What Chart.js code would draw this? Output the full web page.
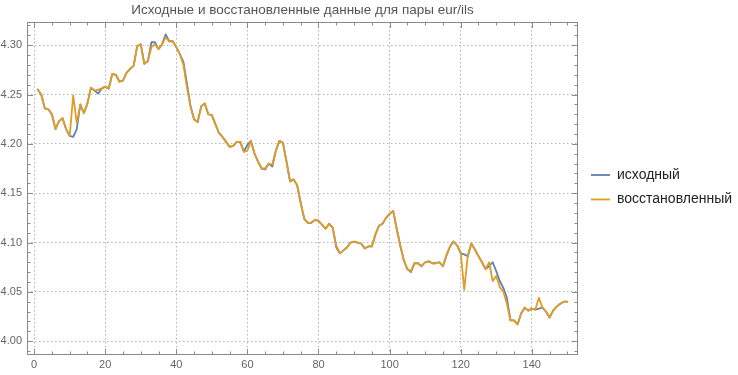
<!DOCTYPE html>
<html lang="ru">
<head>
  <meta charset="UTF-8" />
  <title>eur/ils</title>
  <script src="https://cdn.jsdelivr.net/npm/chart.js"></script>
  <style>
    body { margin: 0; background: white; }
    #wrap { width: 738px; height: 375px; }
  </style>
</head>
<body>
  <div id="wrap"><canvas id="chart" width="738" height="375"></canvas></div>

  <script>
    const titleText = "Исходные и восстановленные данные для пары eur/ils";
    const seriesNames = ["исходный", "восстановленный"];
    const xTicks = [0, 20, 40, 60, 80, 100, 120, 140];
    const yTicks = [4.00, 4.05, 4.10, 4.15, 4.20, 4.25, 4.30];

    const steps = Array.from({ length: 150 }, (_, i) => i + 1);

    const original = [
      4.255, 4.250, 4.236, 4.235, 4.230, 4.215, 4.223, 4.226, 4.215, 4.208,
      4.207, 4.215, 4.240, 4.231, 4.241, 4.257, 4.254, 4.251, 4.256, 4.258,
      4.256, 4.271, 4.270, 4.263, 4.264, 4.272, 4.276, 4.279, 4.299, 4.301,
      4.281, 4.284, 4.303, 4.303, 4.296, 4.301, 4.311, 4.304, 4.304, 4.298,
      4.291, 4.283, 4.261, 4.238, 4.225, 4.222, 4.238, 4.241, 4.230, 4.229,
      4.220, 4.211, 4.207, 4.202, 4.197, 4.198, 4.202, 4.202, 4.192, 4.199,
      4.203, 4.190, 4.182, 4.175, 4.174, 4.180, 4.177, 4.193, 4.203, 4.201,
      4.182, 4.162, 4.164, 4.158, 4.140, 4.124, 4.120, 4.120, 4.123, 4.122,
      4.118, 4.114, 4.119, 4.115, 4.095, 4.089, 4.092, 4.095, 4.100, 4.101,
      4.100, 4.099, 4.094, 4.096, 4.096, 4.108, 4.117, 4.119, 4.125, 4.129,
      4.132, 4.114, 4.097, 4.082, 4.073, 4.070, 4.079, 4.079, 4.076, 4.080,
      4.081, 4.079, 4.079, 4.080, 4.076, 4.087, 4.096, 4.101, 4.097, 4.089,
      4.088, 4.086, 4.099, 4.093, 4.086, 4.080, 4.073, 4.076, 4.080, 4.071,
      4.061, 4.054, 4.044, 4.021, 4.021, 4.017, 4.028, 4.034, 4.031, 4.033,
      4.032, 4.033, 4.034, 4.030, 4.024, 4.031, 4.035, 4.038, 4.040, 4.040
    ];

    const restored = [
      4.255, 4.250, 4.236, 4.235, 4.230, 4.215, 4.223, 4.226, 4.215, 4.208,
      4.249, 4.221, 4.240, 4.231, 4.241, 4.257, 4.254, 4.255, 4.256, 4.258,
      4.256, 4.271, 4.270, 4.263, 4.264, 4.272, 4.276, 4.279, 4.299, 4.301,
      4.281, 4.284, 4.298, 4.301, 4.296, 4.301, 4.308, 4.304, 4.304, 4.298,
      4.291, 4.280, 4.257, 4.238, 4.225, 4.222, 4.238, 4.241, 4.230, 4.229,
      4.220, 4.211, 4.207, 4.202, 4.197, 4.198, 4.202, 4.202, 4.192, 4.193,
      4.203, 4.190, 4.182, 4.175, 4.175, 4.180, 4.179, 4.193, 4.203, 4.201,
      4.182, 4.162, 4.164, 4.158, 4.140, 4.124, 4.120, 4.120, 4.123, 4.122,
      4.118, 4.114, 4.119, 4.115, 4.097, 4.089, 4.092, 4.095, 4.100, 4.101,
      4.100, 4.099, 4.094, 4.096, 4.096, 4.108, 4.117, 4.119, 4.125, 4.129,
      4.132, 4.114, 4.097, 4.082, 4.073, 4.071, 4.079, 4.079, 4.076, 4.080,
      4.081, 4.079, 4.079, 4.080, 4.076, 4.087, 4.096, 4.101, 4.097, 4.090,
      4.052, 4.087, 4.099, 4.093, 4.086, 4.080, 4.073, 4.080, 4.061, 4.066,
      4.055, 4.050, 4.038, 4.021, 4.021, 4.017, 4.028, 4.034, 4.031, 4.033,
      4.032, 4.044, 4.034, 4.030, 4.024, 4.031, 4.035, 4.038, 4.040, 4.040
    ];

    const colors = ["#5e81b5", "#e19c24"];
    const FONT = "'Liberation Sans', Arial, sans-serif";

    // рамка с засечками внутрь, заголовок и легенда справа
    const framePlugin = {
      id: "frame",
      afterDraw(chart) {
        const { ctx, chartArea: a, scales: { x, y } } = chart;
        ctx.save();
        ctx.strokeStyle = "#8a8a8a";
        ctx.lineWidth = 1;
        ctx.strokeRect(a.left + 0.5, a.top + 0.5, a.right - a.left - 1, a.bottom - a.top - 1);

        ctx.beginPath();
        for (let v = -5; v <= 155; v += 5) {
          if (v < x.min || v > x.max) continue;
          const px = Math.round(x.getPixelForValue(v)) + 0.5;
          const len = v % 20 === 0 ? 6 : 3.5;
          ctx.moveTo(px, a.bottom); ctx.lineTo(px, a.bottom - len);
          ctx.moveTo(px, a.top); ctx.lineTo(px, a.top + len);
        }
        for (let k = 398; k <= 433; k++) {
          const v = k / 100;
          if (v < y.min || v > y.max) continue;
          const py = Math.round(y.getPixelForValue(v)) + 0.5;
          const len = k % 5 === 0 ? 6 : 3.5;
          ctx.moveTo(a.left, py); ctx.lineTo(a.left + len, py);
          ctx.moveTo(a.right, py); ctx.lineTo(a.right - len, py);
        }
        ctx.stroke();

        // заголовок
        ctx.fillStyle = "#555";
        ctx.font = "13.5px " + FONT;
        ctx.textAlign = "center";
        ctx.textBaseline = "middle";
        ctx.fillText(titleText, (a.left + a.right) / 2, 10);

        // легенда
        ctx.font = "14px " + FONT;
        ctx.textAlign = "left";
        chart.data.datasets.forEach((ds, i) => {
          const ly = 175 + i * 24.5;
          ctx.strokeStyle = ds.borderColor;
          ctx.lineWidth = 1.8;
          ctx.beginPath();
          ctx.moveTo(591, ly); ctx.lineTo(610, ly);
          ctx.stroke();
          ctx.fillStyle = "#222";
          ctx.fillText(ds.label, 617, ly);
        });
        ctx.restore();
      }
    };

    const gridStyle = { color: "#b4b4b4", lineWidth: 1, drawTicks: false };

    new Chart(document.getElementById("chart"), {
      type: "line",
      data: {
        datasets: [
          {
            label: seriesNames[0],
            data: steps.map((s, i) => ({ x: s, y: original[i] })),
            borderColor: colors[0],
            borderWidth: 1.8,
            order: 1
          },
          {
            label: seriesNames[1],
            data: steps.map((s, i) => ({ x: s, y: restored[i] })),
            borderColor: colors[1],
            borderWidth: 1.8,
            order: 0
          }
        ]
      },
      options: {
        responsive: false,
        animation: false,
        events: [],
        layout: { padding: { top: 22, right: 160, left: 0, bottom: 0 } },
        elements: {
          point: { radius: 0 },
          line: { tension: 0, borderJoinStyle: "round", borderCapStyle: "round" }
        },
        plugins: {
          legend: { display: false },
          title: { display: false },
          tooltip: { enabled: false }
        },
        scales: {
          x: {
            type: "linear",
            min: -2,
            max: 153,
            afterBuildTicks: s => { s.ticks = xTicks.map(v => ({ value: v })); },
            afterFit: s => { s.height = 20; },
            grid: gridStyle,
            border: { display: false, dash: [1.5, 2.5] },
            ticks: {
              color: "#666",
              font: { family: FONT, size: 11 },
              padding: 3,
              maxRotation: 0,
              callback: v => String(v)
            }
          },
          y: {
            min: 3.986,
            max: 4.3235,
            afterBuildTicks: s => { s.ticks = yTicks.map(v => ({ value: v })); },
            afterFit: s => { s.width = 27; },
            grid: gridStyle,
            border: { display: false, dash: [1.5, 2.5] },
            ticks: {
              color: "#666",
              font: { family: FONT, size: 11 },
              padding: 5,
              callback: v => Number(v).toFixed(2)
            }
          }
        }
      },
      plugins: [framePlugin]
    });
  </script>
</body>
</html>
